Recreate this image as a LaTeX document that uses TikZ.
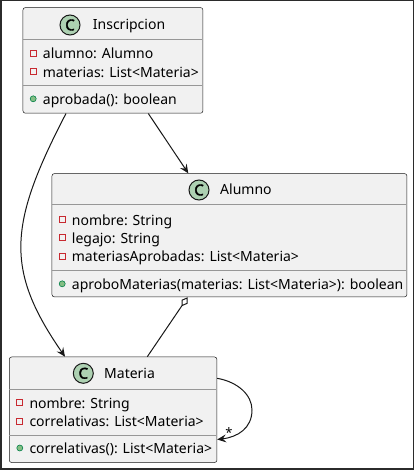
\documentclass[tikz,border=0pt]{standalone}
\usepackage{fontspec}
\setmainfont{Noto Sans}
\newfontfamily\cfont[FakeBold=2.5]{Noto Sans}
\usetikzlibrary{arrows.meta}
\definecolor{framec}{HTML}{2B2B2B}
\definecolor{boxfill}{HTML}{F1F1F1}
\definecolor{boxline}{HTML}{181818}
\definecolor{cfill}{HTML}{ADD1B2}
\definecolor{privred}{HTML}{C82930}
\definecolor{pubfill}{HTML}{84BE84}
\definecolor{publine}{HTML}{038048}
\begin{document}
\begin{tikzpicture}[x=1pt,y=-1pt,
  classbox/.style={draw=boxline, line width=0.5pt, fill=boxfill, rounded corners=2.5pt, anchor=north west, inner sep=0pt},
  sepline/.style={draw=boxline!45, line width=1pt},
  txt/.style={anchor=base west, inner sep=0pt, font=\fontsize{14}{16}\selectfont, text=black},
  cicon/.style={circle, draw=boxline, line width=1pt, fill=cfill, minimum size=20pt, inner sep=0pt, font=\fontsize{15}{15}\cfont\bfseries},
  priv/.style={draw=privred, line width=1pt, fill=none, minimum size=6pt, inner sep=0pt},
  pub/.style={circle, draw=publine, line width=0.6pt, fill=pubfill, minimum size=6pt, inner sep=0pt},
  conn/.style={draw=boxline, line width=1pt},
  arr/.style={conn, -{Stealth[length=9pt, width=8pt, inset=3.5pt]}},
  agg/.style={conn, -{Diamond[open, length=11pt, width=7pt, line width=1pt]}},
  lbl/.style={inner sep=0pt, font=\fontsize{13}{13}\selectfont}
]
% frame and background
\fill[framec] (0,0) rectangle (414,470);
\fill[white] (2,1) rectangle (413,468);
\useasboundingbox (0,0) rectangle (414,470);

% ---------------- Inscripcion ----------------
\node[classbox, minimum width=180pt, minimum height=105.7pt] (insc) at (22.7,7.3) {};
\draw[sepline] (23,40) -- (202.4,40);
\draw[sepline] (23,86) -- (202.4,86);
\node[cicon] (inscC) at (70,25) {C};
\node[txt] (inscT) at (92.7,30) {Inscripcion};
\node[priv] (inscb1) at (33.2,53.5) {};
\node[txt] (insca1) at (42.7,59) {alumno: Alumno};
\node[priv] (inscb2) at (33.2,71.8) {};
\node[txt] (insca2) at (42.7,77.3) {materias: List<Materia>};
\node[pub] (inscb3) at (33.2,98.8) {};
\node[txt] (inscm1) at (42.7,104.3) {aprobada(): boolean};

% ---------------- Alumno ----------------
\node[classbox, minimum width=355pt, minimum height=123.4pt] (alum) at (51.7,173.3) {};
\draw[sepline] (52,204.3) -- (406.4,204.3);
\draw[sepline] (52,270) -- (406.4,270);
\node[cicon] (alumC) at (199,190) {C};
\node[txt] (alumT) at (220,194.3) {Alumno};
\node[priv] (alumb1) at (62.2,219.5) {};
\node[txt] (aluma1) at (71.7,225) {nombre: String};
\node[priv] (alumb2) at (62.2,237.8) {};
\node[txt] (aluma2) at (71.7,243.3) {legajo: String};
\node[priv] (alumb3) at (62.2,256.2) {};
\node[txt] (aluma3) at (71.7,261.7) {materiasAprobadas: List<Materia>};
\node[pub] (alumb4) at (62.2,283.8) {};
\node[txt] (alumm1) at (71.7,289.3) {aproboMaterias(materias: List<Materia>): boolean};

% ---------------- Materia ----------------
\node[classbox, minimum width=207.7pt, minimum height=105.6pt] (mat) at (9,356.7) {};
\draw[sepline] (9.3,389) -- (216.4,389);
\draw[sepline] (9.3,435.7) -- (216.4,435.7);
\node[cicon] (matC) at (83.3,373.3) {C};
\node[txt] (matT) at (104,378.3) {Materia};
\node[priv] (matb1) at (19.8,402.8) {};
\node[txt] (mata1) at (29.3,408.3) {nombre: String};
\node[priv] (matb2) at (19.8,421.2) {};
\node[txt] (mata2) at (29.3,426.7) {correlativas: List<Materia>};
\node[pub] (matb3) at (19.8,448) {};
\node[txt] (matm1) at (29.3,453.5) {correlativas(): List<Materia>};

% ---------------- connectors ----------------
\draw[arr] ([xshift=125.6pt]insc.south west) -- ([xshift=136.6pt]alum.north west);
\draw[arr] ([xshift=43.3pt]insc.south west) .. controls (8,225) and (5,270) .. ([xshift=56pt]mat.north west);
\draw[agg] ([xshift=138.3pt]mat.north west) -- ([xshift=136pt]alum.south west);
\draw[arr] ([yshift=-21.6pt]mat.north east) .. controls (238,382) and (252,395) .. (252,410)
  .. controls (252,428) and (238,437) .. ([yshift=-82.8pt]mat.north east);
\node[lbl] (star) at (229,432.5) {*};
\end{tikzpicture}
\end{document}
